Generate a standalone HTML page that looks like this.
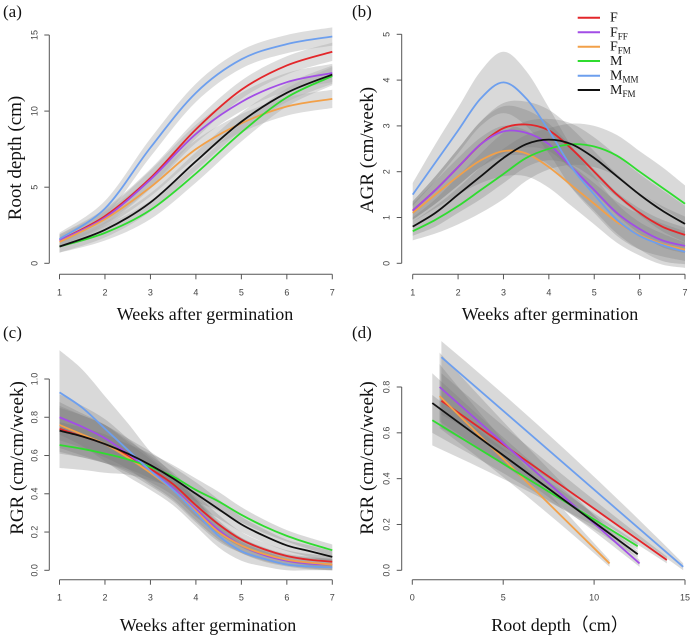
<!DOCTYPE html>
<html><head><meta charset="utf-8">
<style>
html,body{margin:0;padding:0;background:#fff;}
svg{display:block;}
.tk{font-family:"Liberation Sans",sans-serif;font-size:9px;fill:#444;}
.ttl{font-family:"Liberation Serif",serif;font-size:19px;fill:#111;}
.xttl{font-family:"Liberation Serif",serif;font-size:18px;fill:#111;}
.pl{font-family:"Liberation Serif",serif;font-size:17px;fill:#111;}
.lg{font-family:"Liberation Serif",serif;font-size:14px;fill:#111;}
</style></head>
<body>
<svg id="fig" width="700" height="636" viewBox="0 0 700 636" xmlns="http://www.w3.org/2000/svg"></svg>
<script>
// ---- data ----
const seriesNames = ["F","FFF","FFM","M","MMM","MFM"];
const seriesColors = ["#e3262a","#a24de6","#f2a048","#2fdc2f","#6d9fee","#111111"];
const weeksA = [1,2,3,4,5,6,7];
const aF   = [1.5,3.1,5.6,8.8,11.4,13.0,13.9];
const aFFF = [1.5,3.0,5.5,8.5,10.6,11.9,12.5];
const aFFM = [1.4,2.9,5.0,7.5,9.2,10.3,10.8];
const aM   = [1.1,2.0,3.5,5.9,8.6,10.9,12.3];
const aMMM = [1.6,3.6,7.6,11.2,13.4,14.4,14.9];
const aMFM = [1.1,2.2,4.0,6.7,9.3,11.2,12.4];
const aSE  = [0.4,0.5,0.6,0.6,0.6,0.6,0.6];

const weeksB = [1,1.5,2,2.5,3,3.5,4,4.5,5,5.5,6,6.5,7];
const bF   = [1.15,1.6,2.1,2.6,2.95,3.03,2.9,2.5,2.0,1.5,1.1,0.8,0.62];
const bFFF = [1.15,1.6,2.1,2.6,2.88,2.85,2.6,2.1,1.6,1.1,0.75,0.5,0.38];
const bFFM = [1.1,1.5,1.9,2.25,2.45,2.4,2.1,1.7,1.3,0.9,0.62,0.42,0.3];
const bM   = [0.7,0.95,1.25,1.6,1.95,2.3,2.5,2.6,2.55,2.35,2.0,1.65,1.3];
const bMMM = [1.5,2.2,2.9,3.6,3.95,3.6,2.9,2.1,1.5,0.95,0.6,0.4,0.25];
const bMFM = [0.8,1.1,1.5,1.9,2.3,2.6,2.7,2.6,2.3,1.9,1.5,1.15,0.86];
const bSE  = [0.2,0.3,0.4,0.5,0.55,0.5,0.45,0.45,0.45,0.45,0.45,0.45,0.4];
const bSEwide = [0.25,0.4,0.5,0.6,0.67,0.6,0.5,0.45,0.4,0.35,0.3,0.25,0.2];

const cF   = [0.74,0.70,0.66,0.60,0.53,0.45,0.34,0.24,0.16,0.11,0.075,0.055,0.045];
const cFFF = [0.80,0.75,0.69,0.61,0.52,0.43,0.32,0.21,0.13,0.08,0.05,0.035,0.03];
const cFFM = [0.76,0.71,0.66,0.59,0.51,0.42,0.31,0.20,0.13,0.085,0.055,0.04,0.03];
const cM   = [0.655,0.635,0.61,0.58,0.54,0.49,0.42,0.36,0.29,0.23,0.18,0.14,0.105];
const cMMM = [0.93,0.85,0.74,0.63,0.52,0.42,0.30,0.18,0.10,0.06,0.03,0.02,0.015];
const cMFM = [0.73,0.70,0.66,0.61,0.55,0.48,0.40,0.32,0.24,0.18,0.13,0.10,0.07];
const cSE  = [0.12,0.11,0.1,0.08,0.07,0.06,0.06,0.05,0.04,0.035,0.03,0.03,0.03];
const cSEwide = [0.22,0.2,0.17,0.14,0.1,0.08,0.07,0.06,0.05,0.04,0.03,0.02,0.02];

const dX0 = [1.6,1.5,1.5,1.1,1.6,1.1];
const dX1 = [14.0,12.5,10.85,12.4,14.9,12.4];
const dY0 = [0.74,0.80,0.76,0.655,0.93,0.73];
const dY1 = [0.045,0.03,0.03,0.105,0.015,0.07];
const dSE0 = [0.12,0.15,0.14,0.11,0.25,0.13];

const ticksWeeks = [1,2,3,4,5,6,7];
const ticksA = [0,5,10,15];
const ticksB = [0,1,2,3,4,5];
const ticksC = [0.0,0.2,0.4,0.6,0.8,1.0];
const ticksD = [0.0,0.2,0.4,0.6,0.8];
const ticksDx = [0,5,10,15];

// ---- helpers ----
const NS="http://www.w3.org/2000/svg";
const svg=document.getElementById('fig');
function mk(tag,attrs,parent){const e=document.createElementNS(NS,tag);for(const k in attrs)e.setAttribute(k,attrs[k]);(parent||svg).appendChild(e);return e;}
function lin(d0,d1,r0,r1){return v=>r0+(v-d0)*(r1-r0)/(d1-d0);}
function smooth(pts){
  let d="M"+pts[0][0].toFixed(2)+","+pts[0][1].toFixed(2);
  for(let i=0;i<pts.length-1;i++){
    const p0=pts[i-1]||pts[i],p1=pts[i],p2=pts[i+1],p3=pts[i+2]||p2;
    const c1=[p1[0]+(p2[0]-p0[0])/6,p1[1]+(p2[1]-p0[1])/6];
    const c2=[p2[0]-(p3[0]-p1[0])/6,p2[1]-(p3[1]-p1[1])/6];
    d+="C"+c1[0].toFixed(2)+","+c1[1].toFixed(2)+" "+c2[0].toFixed(2)+","+c2[1].toFixed(2)+" "+p2[0].toFixed(2)+","+p2[1].toFixed(2);
  }
  return d;
}
function smoothNoM(pts){return smooth(pts).replace(/^M[^C]*/,"L"+pts[0][0].toFixed(2)+","+pts[0][1].toFixed(2));}

function axes(p){
  const g=mk('g',{});
  
  
  const yl=mk('line',{x1:p.ax,y1:p.sy(p.yt[0]),x2:p.ax,y2:p.sy(p.yt[p.yt.length-1]),stroke:'#555','stroke-width':1},g);
  
  
  p.yt.forEach(v=>{
    const y=p.sy(v);
    mk('line',{x1:p.ax-5,y1:y,x2:p.ax,y2:y,stroke:'#555'},g);
    const t=mk('text',{x:p.ax-12,y:y,class:'tk','text-anchor':'middle',transform:`rotate(-90 ${p.ax-12} ${y})`},g);
    
    
    t.textContent=p.yfmt?p.yfmt(v):String(v);
  });
  const xl=mk('line',{x1:p.sx(p.xt[0]),y1:p.ay,x2:p.sx(p.xt[p.xt.length-1]),y2:p.ay,stroke:'#555'},g);
  
  
  p.xt.forEach(v=>{
    const x=p.sx(v);
    mk('line',{x1:x,y1:p.ay,x2:x,y2:p.ay+5,stroke:'#555'},g);
    const t=mk('text',{x:x,y:p.ay+21,class:'tk','text-anchor':'middle'},g);
    
    
    t.textContent=String(v);
  });
  const xt=mk('text',{x:p.xtx,y:p.xty,class:'xttl','text-anchor':'middle'},g);
  
  
  xt.textContent=p.xtitle;
  const yt=mk('text',{x:p.ytx,y:p.yty,class:'ttl','text-anchor':'middle',transform:`rotate(-90 ${p.ytx} ${p.yty})`},g);
  
  
  yt.textContent=p.ytitle;
  const pl=mk('text',{x:p.plx,y:p.ply,class:'pl'},g);
  
  
  pl.textContent=p.label;
}

function curvePanel(p,xs,ys,ses,fill){
  const gb=mk('g',{});
  
  
  ys.forEach((arr,i)=>{
    const se=ses[i];
    const up=xs.map((x,k)=>[p.sx(x),p.sy(arr[k]+se[k])]);
    const lo=xs.map((x,k)=>[p.sx(x),p.sy(Math.max(p.ymin,arr[k]-se[k]))]).reverse();
    const b=mk('path',{d:smooth(up)+smoothNoM(lo)+"Z",fill:fill,stroke:'none'},gb);
    
    
  });
  const gl=mk('g',{});
  
  
  ys.forEach((arr,i)=>{
    const pts=xs.map((x,k)=>[p.sx(x),p.sy(arr[k])]);
    const l=mk('path',{d:smooth(pts),fill:'none',stroke:seriesColors[i],'stroke-width':1.8},gl);
    
    
  });
}

// ---- panel a ----
const pa={name:'panel-a',sx:lin(1,7,59.5,332.3),sy:lin(0,15,263.3,35),ax:49.3,ay:274.3,xt:ticksWeeks,yt:ticksA,ymin:-5,
  xtitle:'Weeks after germination',xtx:205,xty:320,ytitle:'Root depth (cm)',ytx:21,yty:158,label:'(a)',plx:3,ply:17};
curvePanel(pa,weeksA,[aF,aFFF,aFFM,aM,aMMM,aMFM],[aSE,aSE,aSE,aSE,aSE,aSE],'rgba(170,170,170,0.4)');
axes(pa);

// ---- panel b ----
const pb={name:'panel-b',sx:lin(1,7,412.7,685),sy:lin(0,5,263.3,34.3),ax:401.7,ay:274.3,xt:ticksWeeks,yt:ticksB,ymin:-5,
  xtitle:'Weeks after germination',xtx:550,xty:320,ytitle:'AGR (cm/week)',ytx:373,yty:150,label:'(b)',plx:352,ply:17};
curvePanel(pb,weeksB,[bF,bFFF,bFFM,bM,bMMM,bMFM],[bSE,bSE,bSE,bSE,bSEwide,bSE],'rgba(120,120,120,0.28)');
axes(pb);

// ---- panel c ----
const pc={name:'panel-c',sx:lin(1,7,59.5,332.3),sy:lin(0,1,570.3,379),ax:49.3,ay:579.7,xt:ticksWeeks,yt:ticksC,ymin:0,yfmt:v=>v.toFixed(1),
  xtitle:'Weeks after germination',xtx:208,xty:631,ytitle:'RGR (cm/cm/week)',ytx:23,yty:458,label:'(c)',plx:3,ply:338};
curvePanel(pc,weeksB,[cF,cFFF,cFFM,cM,cMMM,cMFM],[cSE,cSE,cSE,cSE,cSEwide,cSE],'rgba(120,120,120,0.28)');
axes(pc);

// ---- panel d ----
const pd={name:'panel-d',sx:lin(0,15,412.3,685),sy:lin(0,0.8,570.3,387),ax:401.7,ay:579.7,xt:ticksDx,yt:ticksD,ymin:0,yfmt:v=>v.toFixed(1),
  xtitle:'Root depth（cm）',xtx:560,xty:631,ytitle:'RGR (cm/cm/week)',ytx:373,yty:458,label:'(d)',plx:352,ply:338};
(function(){
  const gb=mk('g',{});
  
  
  const gl=mk('g',{});
  
  
  const top=pd.sy(1.0);
  seriesNames.forEach((n,i)=>{
    const x0=pd.sx(dX0[i]),x1=pd.sx(dX1[i]);
    const yu0=Math.max(top,pd.sy(dY0[i]+dSE0[i])),yl0=pd.sy(dY0[i]-dSE0[i]);
    const yu1=pd.sy(dY1[i]+0.015),yl1=pd.sy(Math.max(0,dY1[i]-0.015));
    const xm=(x0+x1)/2, se=dSE0[i]*0.35;
    const b=mk('path',{d:`M${x0},${yu0} Q${xm},${pd.sy((dY0[i]+dY1[i])/2+se)} ${x1},${yu1} L${x1},${yl1} Q${xm},${pd.sy((dY0[i]+dY1[i])/2-se)} ${x0},${yl0}Z`,fill:'rgba(120,120,120,0.28)'},gb);
    
    
    const l=mk('line',{x1:x0,y1:pd.sy(dY0[i]),x2:x1,y2:pd.sy(dY1[i]),stroke:seriesColors[i],'stroke-width':1.8},gl);
    
    
  });
})();
axes(pd);

// ---- legend ----
(function(){
  const g=mk('g',{});
  
  
  const subs=["","FF","FM","","MM","FM"];
  const mains=["F","F","F","M","M","M"];
  const rows=[17.7,32.3,46.7,61,75.7,90];
  seriesNames.forEach((n,i)=>{
    const e=mk('g',{},g);
    
    
    mk('line',{x1:577.7,y1:rows[i],x2:600,y2:rows[i],stroke:seriesColors[i],'stroke-width':2},e);
    const t=mk('text',{x:610,y:rows[i]+4,class:'lg'},e);
    t.textContent=mains[i];
    if(subs[i]){const s=mk('tspan',{dy:3,'font-size':'9'},t);s.textContent=subs[i];}
  });
})();
</script>
</body></html>
